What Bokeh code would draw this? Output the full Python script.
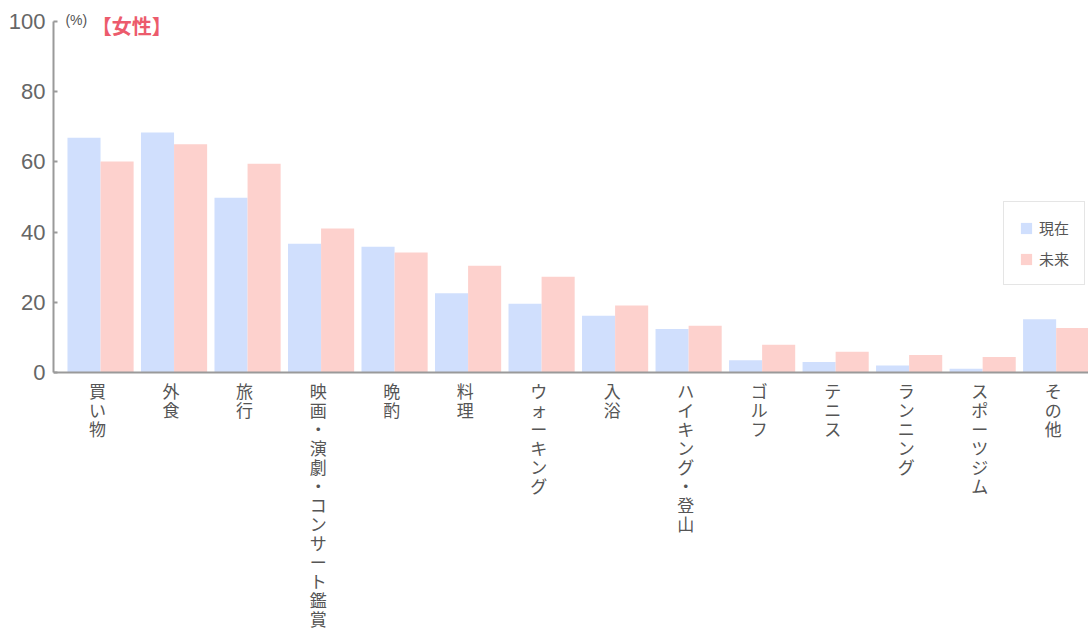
from bokeh.plotting import figure
from bokeh.models import (ColumnDataSource, Range1d, FixedTicker, Span, Label,
                          Legend, LegendItem)
from bokeh.transform import dodge
from bokeh.core.properties import value
from bokeh.embed import file_html
from bokeh.resources import INLINE

# ---- data ----
categories = ["買い物", "外食", "旅行", "映画・演劇・コンサート鑑賞", "晩酌", "料理",
              "ウォーキング", "入浴", "ハイキング・登山", "ゴルフ", "テニス",
              "ランニング", "スポーツジム", "その他"]
current = [66.9, 68.4, 49.8, 36.7, 35.8, 22.6, 19.6, 16.2, 12.4, 3.5, 3.0, 2.0, 1.1, 15.2]
future = [60.1, 65.0, 59.5, 41.0, 34.2, 30.4, 27.3, 19.1, 13.3, 7.9, 5.9, 5.0, 4.4, 12.7]
y_ticks = [0, 20, 40, 60, 80, 100]
series_names = ["現在", "未来"]

BLUE = "#d0dffd"
PINK = "#fdd1cd"
AXIS = "#9a9a9a"
TEXT = "#555555"
JP = "Noto Sans CJK JP"

src = ColumnDataSource(dict(
    x=list(range(len(categories))),
    cur=current,
    fut=future,
    vlabel=["\n".join(c) for c in categories],
))

W, H = 1088, 635
px_per_unit = 3.51
top_border = 12
span = (H - top_border) / px_per_unit
y_end = 100 + 9 / px_per_unit
y_start = y_end - span

p = figure(width=W, height=H, output_backend="svg", toolbar_location=None,
           x_range=Range1d(-0.64, 13.44), y_range=Range1d(y_start, y_end),
           x_axis_location=None, min_border_left=53, min_border_right=0,
           min_border_top=top_border, min_border_bottom=0)
p.outline_line_color = None
p.xgrid.visible = False
p.ygrid.visible = False
p.background_fill_color = "white"
p.border_fill_color = "white"

r1 = p.vbar(x=dodge("x", -0.225, range=p.x_range), top="cur", width=0.45,
            source=src, fill_color=BLUE, line_color=None)
r2 = p.vbar(x=dodge("x", 0.225, range=p.x_range), top="fut", width=0.45,
            source=src, fill_color=PINK, line_color=None)

# category labels (vertical stacking)
p.text(x=dodge("x", -0.04, range=p.x_range), y=-1.6, text="vlabel", source=src,
       text_align="center", text_baseline="top", text_font=value(JP),
       text_font_size="17px", text_color=TEXT, text_line_height=0.76)

# x axis line at 0
p.add_layout(Span(location=0, dimension="width", line_color=AXIS, line_width=2))

# y axis
ya = p.yaxis[0]
ya.bounds = (0, 100)
ya.ticker = FixedTicker(ticks=y_ticks)
ya.axis_line_color = AXIS
ya.axis_line_width = 2
ya.major_tick_line_color = AXIS
ya.major_tick_line_width = 2
ya.major_tick_in = 4
ya.major_tick_out = 0
ya.minor_tick_line_color = None
ya.major_label_text_font = "Liberation Sans"
ya.major_label_text_font_size = "22px"
ya.major_label_text_color = "#666666"
ya.major_label_standoff = 8

# unit and title
p.add_layout(Label(x=-0.33, y=100.3, text="(%)", text_font="Liberation Sans",
                   text_font_size="14px", text_color=TEXT, text_align="center",
                   text_baseline="middle"))
p.add_layout(Label(x=-0.12, y=98.9, text="【女性】", text_font=JP,
                   text_font_size="20px", text_font_style="bold",
                   text_color="#ec5b6c", text_align="left",
                   text_baseline="middle"))

legend = Legend(items=[LegendItem(label=series_names[0], renderers=[r1]),
                       LegendItem(label=series_names[1], renderers=[r2])],
                location=(950, 350), orientation="vertical",
                border_line_color="#cccccc", border_line_width=1,
                background_fill_color="white", background_fill_alpha=1,
                label_text_font=JP, label_text_font_size="15px",
                label_text_color=TEXT, glyph_width=14, glyph_height=14,
                label_height=20, spacing=10, padding=15, margin=0,
                label_standoff=6)
p.add_layout(legend)

open("out.html", "w").write(file_html(p, INLINE))
